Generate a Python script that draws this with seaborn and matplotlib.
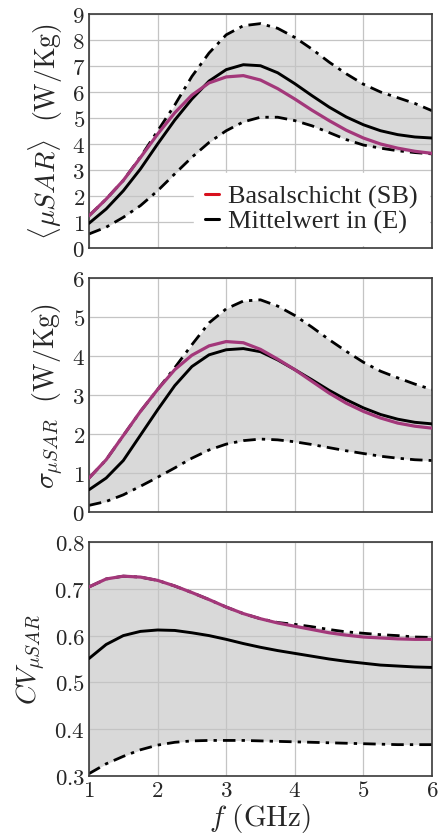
import numpy as np
import matplotlib
matplotlib.use("Agg")
import matplotlib.pyplot as plt
from matplotlib.lines import Line2D
from matplotlib.ticker import FuncFormatter, MultipleLocator
import seaborn as sns

# frequency axis (GHz)
freq = [1.0, 1.25, 1.5, 1.75, 2.0, 2.25, 2.5, 2.75, 3.0, 3.25, 3.5,
        3.75, 4.0, 4.25, 4.5, 4.75, 5.0, 5.25, 5.5, 5.75, 6.0]

# panel 1: mean muSAR (W/Kg)
mean_sb = [1.24, 1.88, 2.6, 3.48, 4.38, 5.2, 5.88, 6.35, 6.58, 6.63, 6.46,
           6.13, 5.73, 5.3, 4.9, 4.53, 4.23, 4.0, 3.84, 3.72, 3.64]
mean_e = [0.95, 1.5, 2.2, 3.04, 4.0, 4.92, 5.73, 6.42, 6.86, 7.05, 7.01,
          6.74, 6.32, 5.86, 5.42, 5.04, 4.74, 4.51, 4.36, 4.27, 4.23]
mean_hi = [1.24, 1.88, 2.6, 3.5, 4.5, 5.5, 6.6, 7.5, 8.2, 8.55, 8.63,
           8.45, 8.1, 7.65, 7.15, 6.7, 6.3, 6.0, 5.78, 5.56, 5.28]
mean_lo = [0.54, 0.8, 1.18, 1.63, 2.2, 2.85, 3.49, 4.06, 4.51, 4.85, 5.03,
           5.03, 4.9, 4.7, 4.44, 4.17, 3.96, 3.84, 3.74, 3.67, 3.62]

# panel 2: std muSAR (W/Kg)
std_sb = [0.87, 1.34, 1.96, 2.58, 3.14, 3.65, 4.02, 4.26, 4.37, 4.34, 4.17,
          3.92, 3.65, 3.35, 3.05, 2.79, 2.58, 2.41, 2.28, 2.2, 2.15]
std_e = [0.57, 0.87, 1.32, 1.97, 2.62, 3.24, 3.73, 4.03, 4.16, 4.19, 4.11,
         3.9, 3.65, 3.39, 3.12, 2.88, 2.67, 2.5, 2.38, 2.3, 2.26]
std_hi = [0.87, 1.34, 1.96, 2.58, 3.14, 3.7, 4.29, 4.85, 5.21, 5.41, 5.44,
          5.28, 5.04, 4.74, 4.42, 4.12, 3.84, 3.61, 3.44, 3.28, 3.14]
std_lo = [0.17, 0.27, 0.44, 0.66, 0.89, 1.13, 1.38, 1.59, 1.74, 1.83, 1.87,
          1.85, 1.8, 1.73, 1.65, 1.57, 1.5, 1.43, 1.38, 1.34, 1.32]

# panel 3: coefficient of variation
cv_sb = [0.704, 0.721, 0.727, 0.725, 0.718, 0.706, 0.692, 0.677, 0.661, 0.647, 0.636,
         0.627, 0.62, 0.613, 0.606, 0.601, 0.597, 0.595, 0.593, 0.592, 0.592]
cv_e = [0.551, 0.581, 0.6, 0.609, 0.612, 0.611, 0.606, 0.6, 0.592, 0.583, 0.575,
        0.568, 0.562, 0.556, 0.55, 0.545, 0.541, 0.537, 0.535, 0.533, 0.532]
cv_hi = [0.704, 0.721, 0.727, 0.725, 0.718, 0.706, 0.692, 0.677, 0.661, 0.647, 0.636,
         0.628, 0.624, 0.619, 0.613, 0.608, 0.605, 0.602, 0.6, 0.597, 0.596]
cv_lo = [0.305, 0.326, 0.342, 0.356, 0.366, 0.372, 0.375, 0.376, 0.376, 0.376, 0.375,
         0.374, 0.373, 0.372, 0.371, 0.37, 0.369, 0.368, 0.367, 0.367, 0.367]

legend_labels = ["Basalschicht (SB)", "Mittelwert in (E)"]

PURPLE = "#a3377a"
FILL = "#d9d9d9"
DASHDOT = (0, (4.5, 2.2, 1.2, 2.2))

sns.set_style("whitegrid")
plt.rcParams["mathtext.fontset"] = "cm"
plt.rcParams["font.family"] = ["Liberation Serif", "DejaVu Serif"]

fig = plt.figure(figsize=(4.4, 8.37), dpi=100)
left, width, height = 89 / 440, 343 / 440, 234 / 837
bottoms = [1 - 249 / 837, 1 - 513 / 837, 1 - 777 / 837]

panels = [
    (mean_sb, mean_e, mean_hi, mean_lo, (0, 9), 1,
     r"$\langle \mu SAR \rangle\ \ (\mathrm{W/Kg})$"),
    (std_sb, std_e, std_hi, std_lo, (0, 6), 1,
     r"$\sigma_{\mu SAR}\ \ (\mathrm{W/Kg})$"),
    (cv_sb, cv_e, cv_hi, cv_lo, (0.3, 0.8), 0.1,
     r"$CV_{\mu SAR}$"),
]


def tick_fmt(v, pos):
    return f"${v:.1f}$" if abs(v - round(v)) > 1e-6 else f"${int(round(v))}$"


axes = []
for i, (sb, e, hi, lo, ylim, ystep, ylabel) in enumerate(panels):
    ax = fig.add_axes([left, bottoms[i], width, height])
    ax.set_axisbelow(True)
    ax.fill_between(freq, lo, hi, color=FILL, lw=0, zorder=0.2)
    sns.lineplot(x=freq, y=hi, ax=ax, color="black", lw=2.0, linestyle=DASHDOT, zorder=2)
    sns.lineplot(x=freq, y=lo, ax=ax, color="black", lw=2.0, linestyle=DASHDOT, zorder=2)
    sns.lineplot(x=freq, y=e, ax=ax, color="black", lw=2.1, zorder=3,
                 solid_joinstyle="round")
    sns.lineplot(x=freq, y=sb, ax=ax, color=PURPLE, lw=2.3, zorder=4,
                 solid_joinstyle="round")

    ax.set_xlim(1, 6)
    ax.set_ylim(*ylim)
    ax.xaxis.set_major_locator(MultipleLocator(1))
    ax.yaxis.set_major_locator(MultipleLocator(ystep))
    ax.grid(True, color="#c4c4c4", lw=0.9)
    ax.tick_params(direction="in", length=3, color="#c4c4c4", labelsize=16.5, pad=3)
    ax.yaxis.set_major_formatter(FuncFormatter(tick_fmt))
    ax.xaxis.set_major_formatter(FuncFormatter(tick_fmt))
    for s in ax.spines.values():
        s.set_color("#3a3a3a")
        s.set_linewidth(1.2)
    ax.set_ylabel(ylabel, fontsize=20, labelpad=5)
    ax.set_xlabel("")
    if i < 2:
        ax.tick_params(labelbottom=False)
    axes.append(ax)

axes[2].set_xlabel(r"$f\ (\mathrm{GHz})$", fontsize=21, labelpad=0)

handles = [Line2D([], [], color="#d8111e", lw=2.2), Line2D([], [], color="black", lw=2.2)]
leg = axes[0].legend(handles, legend_labels, loc="lower right", bbox_to_anchor=(1.0, 0.0),
                     prop={"family": "Liberation Serif", "size": 19},
                     handlelength=0.5, handletextpad=0.35, labelspacing=0.05,
                     borderaxespad=0.1, borderpad=0.45, frameon=True, fancybox=False,
                     framealpha=1.0, facecolor="white", edgecolor="white")
leg.set_zorder(5)

fig.savefig("out.png", dpi=100, facecolor="white")
